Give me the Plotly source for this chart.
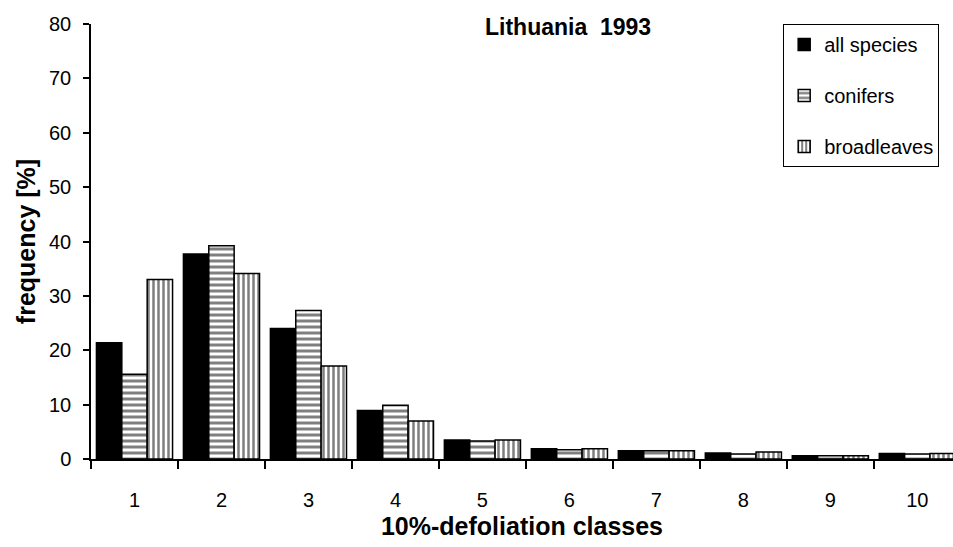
import plotly.graph_objects as go

# Defoliation class distribution, Lithuania 1993
classes = [1, 2, 3, 4, 5, 6, 7, 8, 9, 10]
class_labels = ["1", "2", "3", "4", "5", "6", "7", "8", "9", "10"]
all_species = [21.4, 37.7, 24.0, 8.9, 3.5, 1.9, 1.5, 1.1, 0.6, 1.0]
conifers = [15.6, 39.2, 27.3, 9.9, 3.3, 1.7, 1.5, 0.9, 0.6, 0.9]
broadleaves = [33.0, 34.1, 17.1, 7.0, 3.5, 1.9, 1.5, 1.3, 0.6, 1.0]

FONT = "Liberation Sans, Arial, Helvetica, sans-serif"

fig = go.Figure()
fig.add_trace(go.Bar(
    x=classes, y=all_species, name="all species",
    marker=dict(color="black", line=dict(color="black", width=1.5)),
    legendgroup="a",
))
fig.add_trace(go.Bar(
    x=classes, y=conifers, name="conifers",
    marker=dict(color="white", line=dict(color="black", width=1.5),
                pattern=dict(shape="-", fgcolor="black", bgcolor="white",
                             size=6, solidity=0.5, fillmode="overlay")),
    legendgroup="b",
))
fig.add_trace(go.Bar(
    x=classes, y=broadleaves, name="broadleaves",
    marker=dict(color="white", line=dict(color="black", width=1.5),
                pattern=dict(shape="|", fgcolor="black", bgcolor="white",
                             size=5, solidity=0.5, fillmode="overlay")),
    legendgroup="c",
))

fig.update_layout(
    width=953, height=547,
    margin=dict(l=91, r=0, t=24, b=88),
    paper_bgcolor="white", plot_bgcolor="white",
    font=dict(family=FONT, color="black", size=20),
    barmode="group", bargap=0.125, bargroupgap=0.0,
    showlegend=True,
    legend=dict(
        x=0.803, y=1.0, xanchor="left", yanchor="top",
        bordercolor="black", borderwidth=1, bgcolor="white",
        font=dict(size=20, family=FONT), tracegroupgap=22,
        itemwidth=30,
    ),
    annotations=[
        dict(text="<b>Lithuania  1993</b>", xref="paper", yref="paper",
             x=0.553, y=0.993, xanchor="center", yanchor="middle",
             showarrow=False, font=dict(size=23, family=FONT)),
    ],
)

fig.update_xaxes(
    range=[0.5, 10.41], tickmode="array", tickvals=classes, ticktext=class_labels,
    ticks="", showgrid=False, zeroline=False,
    showline=True, linecolor="black", linewidth=1.5,
    ticklabelstandoff=22,
    minor=dict(tick0=0.5, dtick=1, ticks="outside", ticklen=8,
               tickcolor="black", tickwidth=1.5, showgrid=False),
    title=dict(text="<b>10%-defoliation classes</b>", font=dict(size=25, family=FONT), standoff=8),
)
fig.update_yaxes(
    range=[0, 80], tickmode="array", tickvals=[0, 10, 20, 30, 40, 50, 60, 70, 80],
    ticks="outside", ticklen=6, tickwidth=1.5, tickcolor="black",
    showgrid=False, zeroline=False,
    showline=True, linecolor="black", linewidth=1.5,
    ticklabelstandoff=8,
    title=dict(text="<b>frequency [%]</b>", font=dict(size=25, family=FONT), standoff=6),
)

fig.write_html("out.html")
